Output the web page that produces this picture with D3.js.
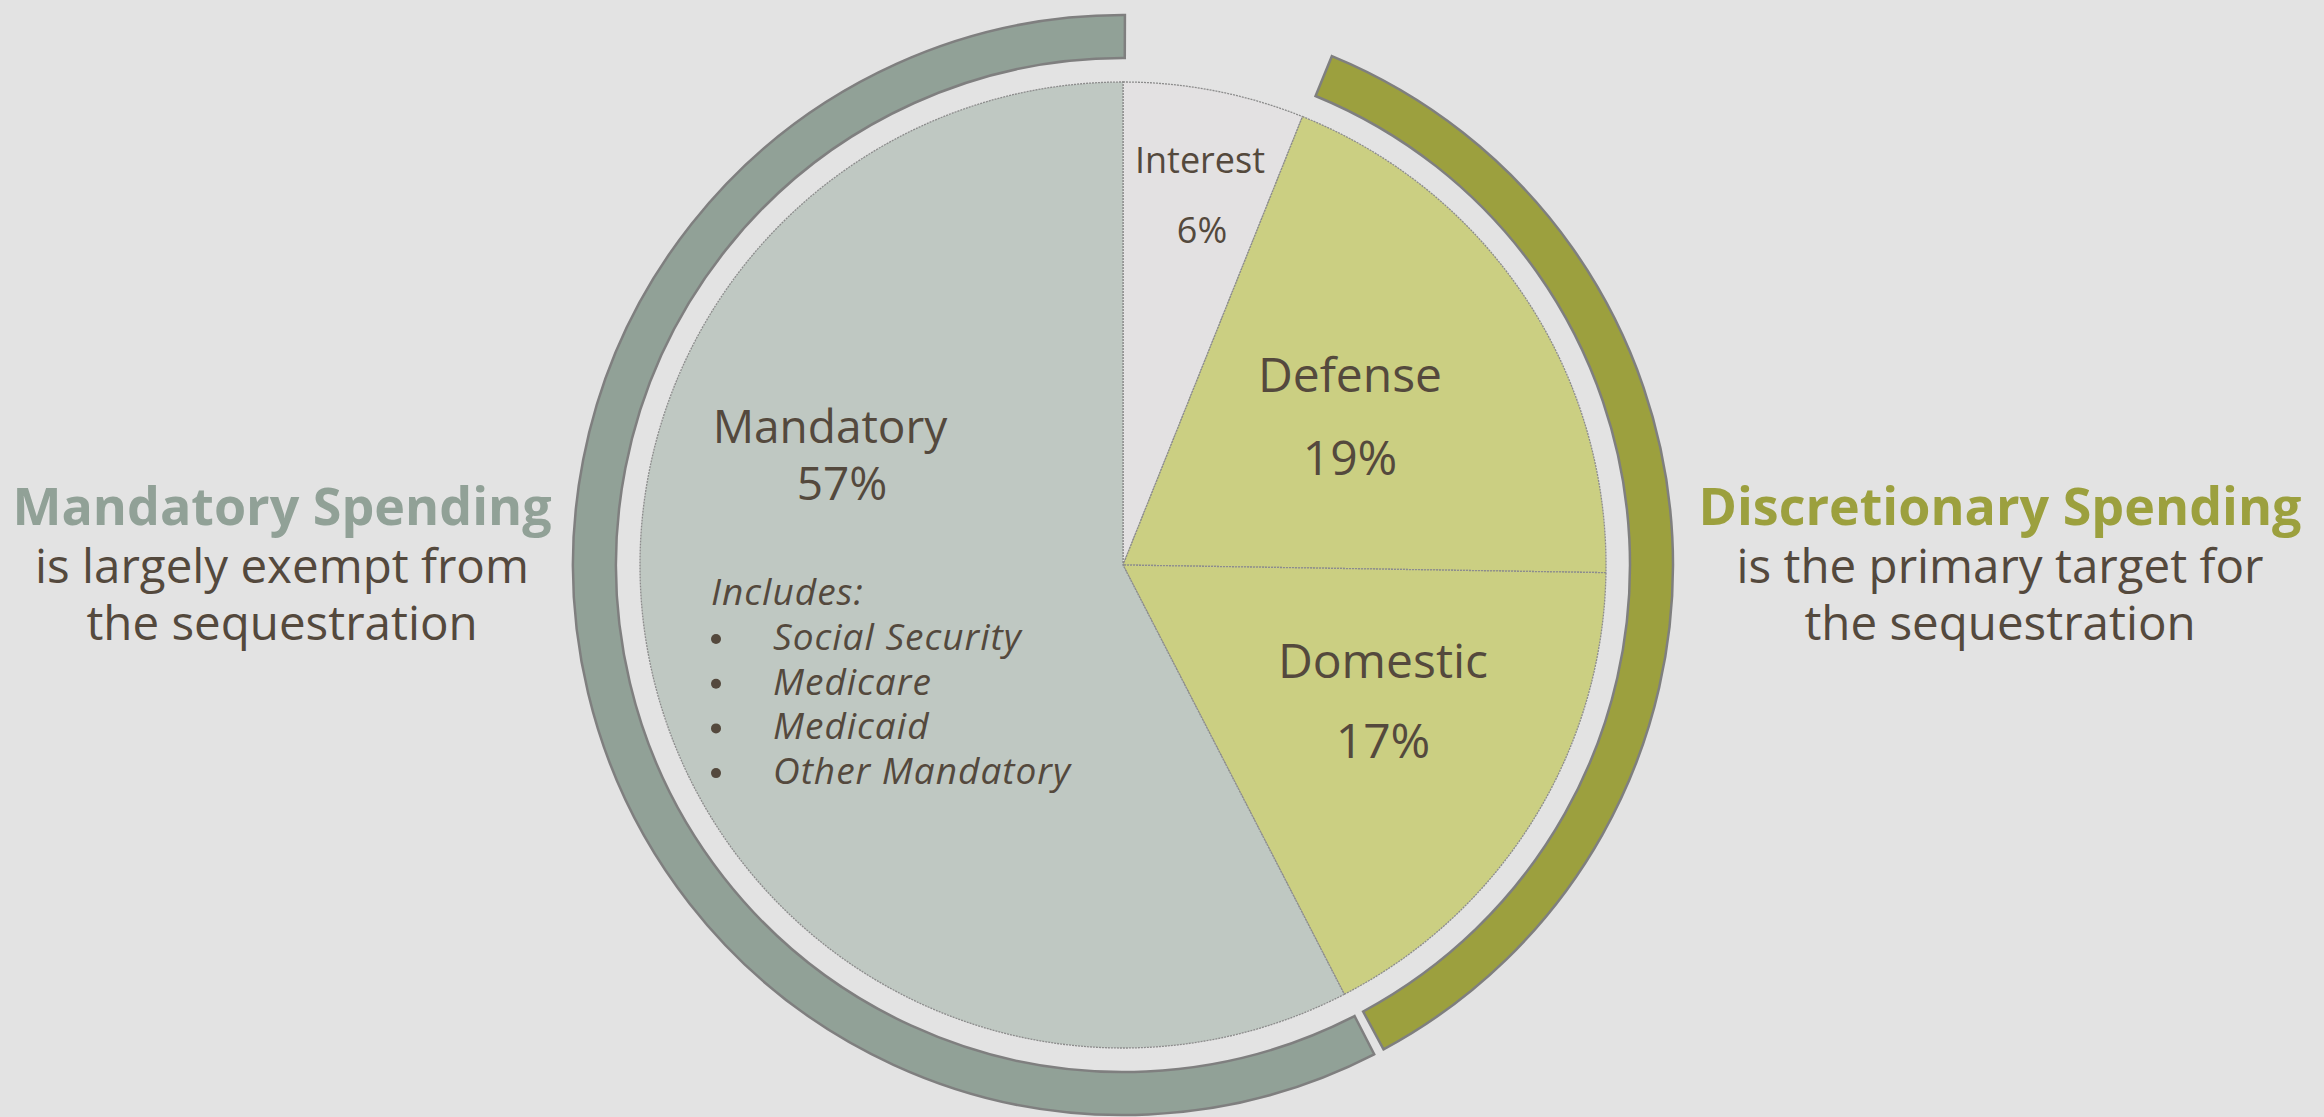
<!DOCTYPE html>
<html>
<head>
<meta charset="utf-8">
<script src="https://cdn.jsdelivr.net/npm/d3@7"></script>
<style>
  html, body { margin: 0; padding: 0; background: #e3e3e3; }
  svg { display: block; }
  text { font-family: 'Open Sans', 'Noto Sans', sans-serif; fill: #54493d; }
</style>
</head>
<body>
<div id="chart"></div>
<script>
const w = 2324;
const h = 1117;

// budget shares (percent)
const categories = ['Interest', 'Defense', 'Domestic', 'Mandatory'];
const shares = [6, 19, 17, 57];
const groups = ['Discretionary', 'Discretionary', 'Discretionary', 'Mandatory'];
const includes = ['Social Security', 'Medicare', 'Medicaid', 'Other Mandatory'];

const mandatoryNote = ['Mandatory Spending', 'is largely exempt from', 'the sequestration'];
const discretionaryNote = ['Discretionary Spending', 'is the primary target for', 'the sequestration'];

const sliceColor = d3.scaleOrdinal()
  .domain(categories)
  .range(['#e3e1e2', '#cbcf82', '#cbcf82', '#bfc8c2']);
const ringColor = d3.scaleOrdinal()
  .domain(['Mandatory', 'Discretionary'])
  .range(['#91a197', '#9ca03e']);

const cx = 1123, cy = 565;
const r = 483;
const ringIn = 507, ringOut = 550;

const svg = d3.select('#chart')
  .append('svg')
  .attr('width', w)
  .attr('height', h);

svg.append('rect')
  .attr('width', w)
  .attr('height', h)
  .attr('fill', '#e3e3e3');

const g = svg.append('g')
  .attr('transform', 'translate(' + cx + ',' + cy + ')');

const pie = d3.pie().sort(null).value((d, i) => shares[i]);
const arcs = pie(categories);
const arc = d3.arc().innerRadius(0).outerRadius(r);

g.selectAll('path.slice')
  .data(arcs)
  .enter()
  .append('path')
  .attr('class', 'slice')
  .attr('d', arc)
  .attr('fill', d => sliceColor(d.data))
  .attr('stroke', '#8c8c8c')
  .attr('stroke-width', 1.3)
  .attr('stroke-dasharray', '2,1');

// outer rings grouping the slices
const deg = Math.PI / 180;
const ringArc = d3.arc().innerRadius(ringIn).outerRadius(ringOut);
const discr = arcs.filter(d => groups[d.index] === 'Discretionary' && d.data !== 'Interest');
const mand = arcs.filter(d => groups[d.index] === 'Mandatory');
const rings = [
  { group: 'Discretionary',
    startAngle: d3.min(discr, d => d.startAngle) + 0.5 * deg,
    endAngle: d3.max(discr, d => d.endAngle) - 1.0 * deg },
  { group: 'Mandatory',
    startAngle: d3.min(mand, d => d.startAngle) + 0.1 * deg,
    endAngle: d3.max(mand, d => d.endAngle) + 0.2 * deg }
];

g.selectAll('path.ring')
  .data(rings)
  .enter()
  .append('path')
  .attr('class', 'ring')
  .attr('d', ringArc)
  .attr('fill', d => ringColor(d.group))
  .attr('stroke', '#7f7f7f')
  .attr('stroke-width', 2.5);

// slice labels
const labelPos = {
  Interest: { x: 77, y: -392, x2: 79, dy: 70, size: 36 },
  Defense: { x: 227, y: -173, x2: 227, dy: 83, size: 48 },
  Domestic: { x: 260, y: 113, x2: 260, dy: 80, size: 48 },
  Mandatory: { x: -293, y: -122, x2: -281, dy: 57, size: 46 }
};

arcs.forEach(function (d) {
  const p = labelPos[d.data];
  g.append('text')
    .attr('x', p.x)
    .attr('y', p.y)
    .attr('text-anchor', 'middle')
    .style('font-size', p.size + 'px')
    .text(d.data);
  g.append('text')
    .attr('x', p.x2)
    .attr('y', p.y + p.dy)
    .attr('text-anchor', 'middle')
    .style('font-size', p.size + 'px')
    .text(d.value + '%');
});

// includes list
g.append('text')
  .attr('x', -412)
  .attr('y', 40)
  .style('font-size', '37px')
  .style('font-style', 'italic')
  .style('letter-spacing', '1px')
  .text('Includes:');

includes.forEach(function (t, i) {
  const y = 85 + i * 44.7;
  g.append('circle')
    .attr('cx', -407)
    .attr('cy', y - 11)
    .attr('r', 5)
    .attr('fill', '#54493d');
  g.append('text')
    .attr('x', -350)
    .attr('y', y)
    .style('font-size', '37px')
    .style('font-style', 'italic')
    .style('letter-spacing', '1px')
    .text(t);
});

// side notes
function note(lines, x, color) {
  lines.forEach(function (line, i) {
    svg.append('text')
      .attr('x', x)
      .attr('y', 525 + i * 57.5)
      .attr('text-anchor', 'middle')
      .style('font-size', i === 0 ? '52px' : '47.5px')
      .style('font-weight', i === 0 ? 700 : 400)
      .style('fill', i === 0 ? color : '#54493d')
      .text(line);
  });
}
note(mandatoryNote, 282, ringColor('Mandatory'));
note(discretionaryNote, 2000, ringColor('Discretionary'));
</script>
</body>
</html>
